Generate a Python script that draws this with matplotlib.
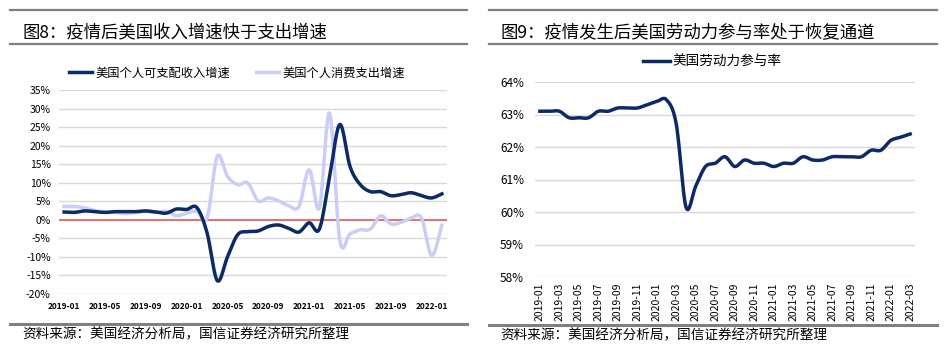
import numpy as np
import matplotlib
matplotlib.use("Agg")
import matplotlib.pyplot as plt
from matplotlib.lines import Line2D
from matplotlib.ticker import FuncFormatter

plt.rcParams["font.family"] = ["Noto Sans CJK SC", "DejaVu Sans"]

# ---- data ----
left_months = [f"{y}-{m:02d}" for y in (2019, 2020, 2021) for m in range(1, 13)] + ["2022-01", "2022-02"]
income_growth = [2.1, 2.0, 2.4, 2.2, 2.0, 2.2, 2.2, 2.2, 2.4, 2.1, 1.8, 2.9,
                 2.8, 3.3, -3.5, -16.4, -10.0, -4.0, -3.2, -3.0, -1.8, -1.4, -2.3, -3.3,
                 -0.8, -2.5, 11.5, 25.7, 14.4, 9.5, 7.6, 7.6, 6.5, 6.8, 7.3, 6.5,
                 5.9, 7.0]
spending_growth = [3.6, 3.6, 3.2, 2.5, 2.1, 2.0, 1.7, 2.0, 2.2, 2.0, 2.3, 1.1,
                   1.8, 2.3, 0.5, 17.1, 11.7, 9.5, 9.9, 5.1, 5.9, 5.1, 3.8, 3.6,
                   13.5, 3.2, 28.8, -5.5, -3.8, -2.7, -2.5, 1.1, -1.1, -0.7, 0.5, 0.5,
                   -9.6, -1.4]

right_months = [f"{y}-{m:02d}" for y in (2019, 2020, 2021) for m in range(1, 13)] + ["2022-01", "2022-02", "2022-03"]
participation = [63.1, 63.1, 63.1, 62.9, 62.9, 62.9, 63.1, 63.1, 63.2, 63.2, 63.2, 63.3,
                 63.4, 63.45, 62.7, 60.15, 60.8, 61.4, 61.5, 61.7, 61.4, 61.6, 61.5, 61.5,
                 61.4, 61.5, 61.5, 61.7, 61.6, 61.6, 61.7, 61.7, 61.7, 61.7, 61.9, 61.9,
                 62.2, 62.3, 62.4]

DARK = "#0b2a66"
LIGHT = "#c9cdf7"
GRID = "#d9d9d9"
RULE = "#808080"


def smooth(vals, n=16):
    """Catmull-Rom curve through the points (like Excel's smoothed line)."""
    y = np.asarray(vals, float)
    x = np.arange(len(y), dtype=float)
    px = np.concatenate([[x[0]], x, [x[-1]]])
    py = np.concatenate([[y[0]], y, [y[-1]]])
    t = np.linspace(0, 1, n, endpoint=False)
    xs, ys = [], []
    for i in range(1, len(px) - 2):
        for arr, out in ((px, xs), (py, ys)):
            p0, p1, p2, p3 = arr[i - 1], arr[i], arr[i + 1], arr[i + 2]
            out.extend(0.5 * (2 * p1 + (-p0 + p2) * t
                              + (2 * p0 - 5 * p1 + 4 * p2 - p3) * t ** 2
                              + (-p0 + 3 * p1 - 3 * p2 + p3) * t ** 3))
    xs.append(x[-1])
    ys.append(y[-1])
    return np.array(xs), np.array(ys)


W, H = 950, 353
fig = plt.figure(figsize=(W / 100, H / 100), dpi=100)


def fx(px):
    return px / W


def fy(py):
    return 1 - py / H


def rule(x0, x1, y, lw=1.6):
    fig.add_artist(Line2D([fx(x0), fx(x1)], [fy(y), fy(y)], color=RULE, lw=lw))


# frame lines and texts
for x0, x1 in ((10, 467), (489, 937)):
    rule(x0, x1, 10)
    rule(x0, x1, 44)
rule(10, 467, 324, lw=2.2)
rule(489, 937, 325, lw=2.2)

fig.text(fx(22), fy(32), "图8：疫情后美国收入增速快于支出增速", fontsize=12.5, va="center")
fig.text(fx(500), fy(32), "图9：疫情发生后美国劳动力参与率处于恢复通道", fontsize=12.5, va="center")
fig.text(fx(22), fy(334), "资料来源：美国经济分析局，国信证券经济研究所整理", fontsize=9.8, va="center")
fig.text(fx(500), fy(335), "资料来源：美国经济分析局，国信证券经济研究所整理", fontsize=9.8, va="center")

# ---- left chart ----
ax1 = fig.add_axes([fx(59), fy(294), (447 - 59) / W, (294 - 90) / H])
ax1.set_ylim(-20, 35)
ax1.set_yticks(np.arange(-20, 36, 5))
ax1.set_xlim(-0.5, len(left_months) - 0.5)
ax1.yaxis.set_major_formatter(FuncFormatter(lambda v, p: f"{v:.0f}%"))
ax1.grid(axis="y", color=GRID, lw=1)
ax1.set_axisbelow(True)
for s in ax1.spines.values():
    s.set_visible(False)
ax1.axhline(0, color="#e06666", lw=1.3, zorder=2)
x, y = smooth(spending_growth)
ax1.plot(x, y, color=LIGHT, lw=2.5, label="美国个人消费支出增速", zorder=3)
x, y = smooth(income_growth)
ax1.plot(x, y, color=DARK, lw=2.5, label="美国个人可支配收入增速", zorder=4)
ax1.set_xticks(range(0, len(left_months), 4))
ax1.set_xticklabels(left_months[::4], fontsize=6, fontweight="bold")
ax1.tick_params(axis="y", labelsize=7.5, length=0, pad=6)
ax1.tick_params(axis="x", length=0, pad=6)
h, l = ax1.get_legend_handles_labels()
fig.legend(h[::-1], l[::-1], loc="center", bbox_to_anchor=(fx(237), fy(73)), ncol=2,
           frameon=False, fontsize=8.8, handlelength=1.9, columnspacing=2.1, handletextpad=0.25)

# ---- right chart ----
ax2 = fig.add_axes([fx(535), fy(277), (915 - 535) / W, (277 - 82) / H])
ax2.set_ylim(58, 64)
ax2.set_yticks(range(58, 65))
ax2.set_xlim(-0.5, len(right_months) - 0.5)
ax2.yaxis.set_major_formatter(FuncFormatter(lambda v, p: f"{v:.0f}%"))
ax2.grid(axis="y", color=GRID, lw=1)
ax2.set_axisbelow(True)
for s in ax2.spines.values():
    s.set_visible(False)
x, y = smooth(participation)
ax2.plot(x, y, color=DARK, lw=2.5, label="美国劳动力参与率")
ax2.set_xticks(range(0, len(right_months), 2))
ax2.set_xticklabels(right_months[::2], rotation=90, fontsize=7.5)
ax2.tick_params(axis="y", labelsize=8.5, length=0, pad=8)
ax2.tick_params(axis="x", length=0, pad=4)
fig.legend(loc="center", bbox_to_anchor=(fx(712), fy(62)), frameon=False,
           fontsize=9.8, handlelength=2.0, handletextpad=0.15,
           handles=ax2.get_lines(), labels=["美国劳动力参与率"])

fig.savefig("out.png", dpi=100)
